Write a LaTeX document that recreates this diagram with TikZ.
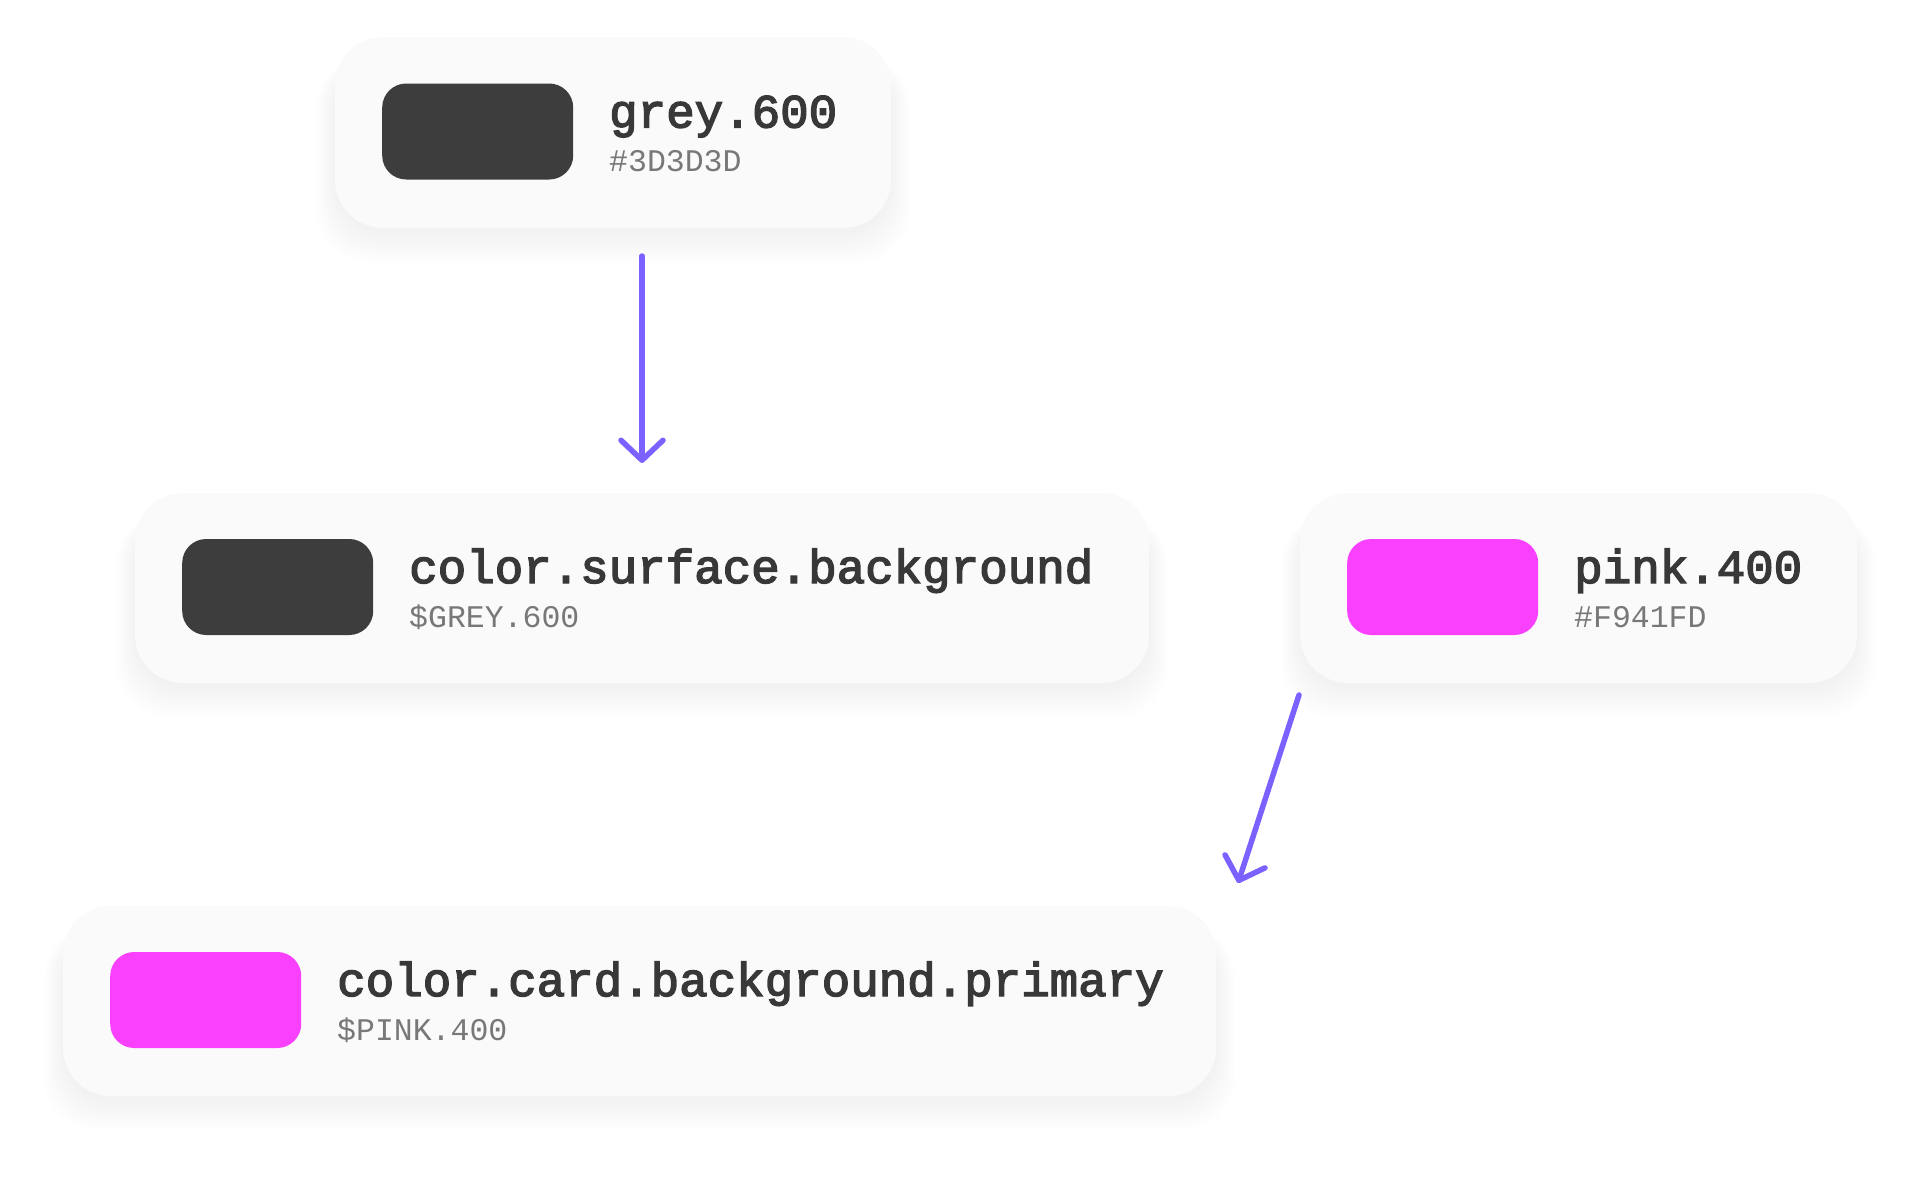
\documentclass[tikz,border=0pt]{standalone}
\usepackage{fontspec}
\newfontfamily\titlefont[FakeBold=3]{Liberation Mono}
\newfontfamily\subfont{Liberation Mono}
\usetikzlibrary{arrows.meta}
\definecolor{cardfill}{HTML}{FAFAFA}
\definecolor{greysw}{HTML}{3D3D3D}
\definecolor{pinksw}{HTML}{F941FD}
\definecolor{titlecol}{HTML}{383838}
\definecolor{subcol}{HTML}{787878}
\definecolor{arrowcol}{HTML}{7B61FF}
\tikzset{
  cardbox/.style={fill=cardfill, rounded corners=48pt, inner sep=0pt, draw=none},
  swatchbox/.style={rounded corners=24pt, inner sep=0pt, minimum width=191pt, minimum height=96pt, draw=none},
  titletext/.style={font=\titlefont\fontsize{47.5}{50}\selectfont, text=titlecol, inner sep=0pt, anchor=base west},
  subtext/.style={font=\subfont\fontsize{31.5}{33}\selectfont, text=subcol, inner sep=0pt, anchor=base west},
  link/.style={draw=arrowcol, line width=5.5pt, line cap=round,
    -{Straight Barb[length=20pt,width=42pt,line cap=round,line join=round]}},
  shadowlayer/.style={fill=black, opacity=0.005, rounded corners=52pt}
}
% #1 name, #2 x1, #3 y1, #4 x2, #5 y2, #6 swatch colour, #7 title, #8 subtitle
\newcommand\mycard[8]{%
  \foreach \i in {0,...,12}{
    \fill[shadowlayer] ({#2-1.6*\i},{#3+20}) rectangle ({#4+1.6*\i},{#5+6+2.4*\i});
  }
  \pgfmathsetmacro\cw{#4-#2}
  \pgfmathsetmacro\ch{#5-#3}
  \node[cardbox, minimum width=\cw pt, minimum height=\ch pt] (c#1) at ({(#2+#4)/2},{(#3+#5)/2}) {};
  \node[swatchbox, fill=#6, anchor=west] (s#1) at ({#2+47},{(#3+#5)/2-1}) {};
  \node[titletext] (t#1) at ({#2+47+191+36},{(#3+#5)/2-5}) {#7};
  \node[subtext] (u#1) at ({#2+47+191+36},{(#3+#5)/2+39}) {#8};
}
\begin{document}
\begin{tikzpicture}[x=1pt,y=-1pt]
  \useasboundingbox[fill=white] (0,0) rectangle (1920,1184);
  \mycard{1}{335}{37}{891}{228}{greysw}{grey.600}{\#3D3D3D}
  \mycard{2}{135}{493}{1149}{683}{greysw}{color.surface.background}{\$GREY.600}
  \mycard{3}{1300}{493}{1857}{683}{pinksw}{pink.400}{\#F941FD}
  \mycard{4}{63}{906}{1216}{1096}{pinksw}{color.card.background.primary}{\$PINK.400}
  \coordinate (a1s) at (642,256);
  \coordinate (a1e) at (642,463);
  \coordinate (a2s) at (1299,695);
  \coordinate (a2e) at (1238,883);
  \draw[link] (a1s) -- (a1e);
  \draw[link] (a2s) -- (a2e);
\end{tikzpicture}
\end{document}
